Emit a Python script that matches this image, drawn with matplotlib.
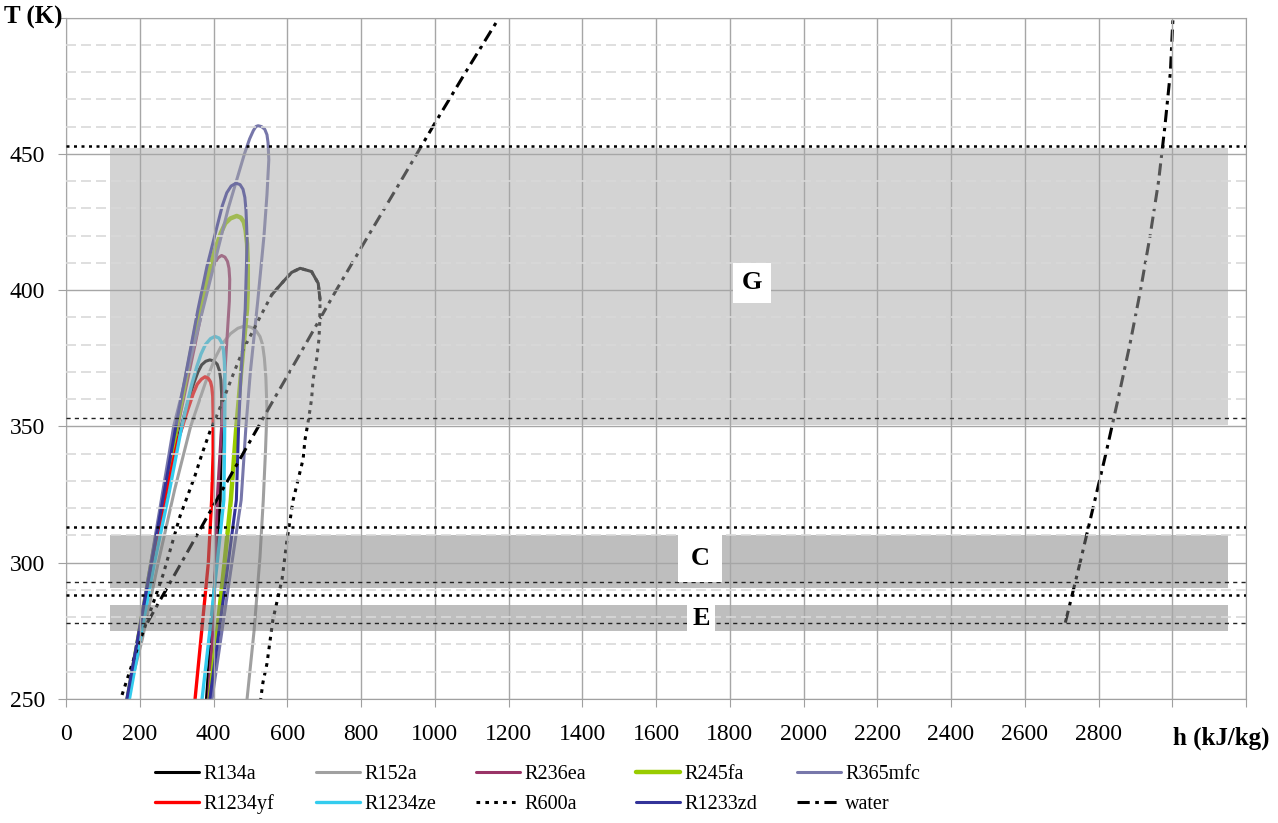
import matplotlib
matplotlib.use('Agg')
import matplotlib.pyplot as plt
from matplotlib.patches import Rectangle

plt.rcParams['font.family'] = ['Liberation Serif', 'DejaVu Serif']

# saturation lines: liquid branch (250 K -> critical) and vapour branch (critical -> 250 K)
r134a_T_liq = [250, 275, 300, 325, 350, 360, 366, 370, 372.6, 373.9, 374.4]
r134a_h_liq = [170, 202, 236, 272, 312, 333, 347, 358, 368, 379, 390]
r134a_T_vap = [374.4, 374.0, 372.8, 370.5, 367, 362, 350, 323, 300, 275, 250]
r134a_h_vap = [390, 401, 410, 416, 420, 422, 422, 418, 407, 394, 381]

r152a_T_liq = [250, 272, 300, 327, 350, 366, 375, 380.5, 384, 386, 386.9]
r152a_h_liq = [166, 207, 250, 295, 338, 378, 404, 425, 446, 466, 486]
r152a_T_vap = [386.9, 386.3, 385, 383, 380, 375, 368, 356, 341, 323, 302, 275, 250]
r152a_h_vap = [486, 503, 516, 526, 533, 538, 542, 545, 541, 535, 526, 510, 491]

r236ea_T_liq = [250, 300, 350, 380, 398, 405, 409.5, 411.8, 412.7]
r236ea_h_liq = [168, 233, 303, 350, 377, 390, 402, 412, 422]
r236ea_T_vap = [412.7, 412.1, 410.5, 408, 404, 396, 370, 350, 323, 290, 270, 250]
r236ea_h_vap = [422, 431, 438, 442, 444, 443, 431, 422, 410, 403, 396, 386]

r245fa_T_liq = [250, 300, 350, 390, 405, 414.8, 421, 424.5, 426.3, 427.2]
r245fa_h_liq = [167, 232, 300, 357, 384, 404, 420, 432, 446, 463]
r245fa_T_vap = [427.2, 426.6, 425, 422, 417, 410, 400, 393, 370, 350, 323, 300, 275, 250]
r245fa_h_vap = [463, 474, 482, 487, 491, 493, 493, 491, 475, 462, 447, 430, 410, 390]

r365mfc_T_liq = [250, 300, 350, 392.8, 430, 450, 455.5, 458.5, 460, 460.3]
r365mfc_h_liq = [166, 230, 292, 371, 440, 484, 498, 508, 515, 521]
r365mfc_T_vap = [460.3, 460, 459, 457, 454, 447.8, 435, 420, 396, 370, 350, 323, 300, 275, 250]
r365mfc_h_vap = [521, 530, 539, 545, 548, 550, 545, 537, 520, 500, 488, 475, 450, 423, 396]

r1234yf_T_liq = [250, 275, 300, 325, 345, 356, 362, 365.5, 367.3, 368.2]
r1234yf_h_liq = [168, 200, 234, 270, 304, 330, 345, 356, 367, 377]
r1234yf_T_vap = [368.2, 367.6, 366.3, 364.3, 361, 354, 340, 323, 300, 275, 250]
r1234yf_h_vap = [377, 386, 392, 395.5, 398, 399, 399, 395, 386, 368, 350]

r1234ze_T_liq = [250, 275, 300, 326, 350, 365, 372, 376.5, 380, 382.2, 383]
r1234ze_h_liq = [172, 205, 240, 280, 314, 340, 355, 366, 378, 392, 404]
r1234ze_T_vap = [383, 382.4, 380.8, 378, 374, 368, 360, 345, 323, 300, 275, 250]
r1234ze_h_vap = [404, 415, 422, 427, 429.5, 431, 431, 430, 428, 410, 390, 369]

r600a_T_liq = [251.5, 266, 295.5, 317, 325, 332, 340, 348, 355, 362, 370, 378, 384, 391.6,
               398.3, 403.1, 406.5, 408]
r600a_h_liq = [152, 187, 263, 309, 331, 350, 369, 390, 412, 433, 456, 480, 503, 532,
               558, 589, 612, 635]
r600a_T_vap = [408, 406.8, 402.5, 396.4, 388, 382, 375, 367, 360, 352, 345, 338, 323, 308,
               294, 279, 263, 256, 250]
r600a_h_vap = [635, 666, 684, 689, 688, 686, 680, 670, 666, 657, 648, 643, 616, 599,
               586, 561, 545, 534, 528]

r1233zd_T_liq = [250, 300, 350, 393, 408.5, 423, 431, 435.7, 438.2, 439.2]
r1233zd_h_liq = [165, 232, 298, 358, 382, 409, 424, 436, 448, 461]
r1233zd_T_vap = [439.2, 438.7, 437, 434, 429.5, 423, 417, 393, 370, 350, 323, 300, 275, 250]
r1233zd_h_vap = [461, 472, 480, 485, 488, 490, 491, 486, 475, 468, 462, 440, 415, 390]

water_T_liq = [278, 280, 300, 320, 340, 360, 380, 400, 420, 440, 460, 480, 500]
water_h_liq = [221, 229, 313, 396, 480, 564, 649, 733, 820, 908, 995, 1084, 1175]
water_T_vap = [278, 300, 320, 340, 360, 380, 400, 420, 440, 460, 480, 500]
water_h_vap = [2710, 2750, 2785, 2820, 2853, 2885, 2914, 2940, 2963, 2980, 2995, 3002]

# temperature bands (G, C, E) and reference levels
band_names = ['G', 'C', 'E']
band_T_low = [350.5, 290.7, 275]
band_T_high = [452, 310.2, 284.5]
band_h_range = [120, 3150]
band_label_h = [1860, 1719, 1722]
band_label_T = [402.7, 301.7, 279.6]
level_thick = [453, 313, 288]
level_thin = [353, 293, 278]

x_ticks = list(range(0, 3201, 200))
x_tick_labels = [str(v) for v in range(0, 2801, 200)] + ['', '']
y_ticks = [250, 300, 350, 400, 450, 500]
y_tick_labels = ['250', '300', '350', '400', '450', '']

fig = plt.figure(figsize=(12.78, 8.23), dpi=100)
ax = fig.add_axes([66 / 1278, 124 / 823, 1180 / 1278, 681.5 / 823])

fluids = [
    ('R134a', r134a_T_liq, r134a_h_liq, r134a_T_vap, r134a_h_vap, '#000000', 2.2, '-'),
    ('R152a', r152a_T_liq, r152a_h_liq, r152a_T_vap, r152a_h_vap, '#a0a0a0', 2.2, '-'),
    ('R236ea', r236ea_T_liq, r236ea_h_liq, r236ea_T_vap, r236ea_h_vap, '#993366', 2.2, '-'),
    ('R245fa', r245fa_T_liq, r245fa_h_liq, r245fa_T_vap, r245fa_h_vap, '#99cc00', 3.2, '-'),
    ('R365mfc', r365mfc_T_liq, r365mfc_h_liq, r365mfc_T_vap, r365mfc_h_vap, '#7777aa', 2.2, '-'),
    ('R1234yf', r1234yf_T_liq, r1234yf_h_liq, r1234yf_T_vap, r1234yf_h_vap, '#ff0000', 2.4, '-'),
    ('R1234ze', r1234ze_T_liq, r1234ze_h_liq, r1234ze_T_vap, r1234ze_h_vap, '#33ccee', 2.4, '-'),
    ('R600a', r600a_T_liq, r600a_h_liq, r600a_T_vap, r600a_h_vap, '#000000', 2.2, (0, (1.2, 1.7))),
    ('R1233zd', r1233zd_T_liq, r1233zd_h_liq, r1233zd_T_vap, r1233zd_h_vap, '#333399', 2.2, '-'),
]

handles = {}
for name, tl, hl, tv, hv, col, lw, ls in fluids:
    ln, = ax.plot(hl + hv, tl + tv, color=col, lw=lw, ls=ls, zorder=2,
                  solid_capstyle='round', solid_joinstyle='round', label=name)
    handles[name] = ln

# the R600a dome top shows as a continuous arc in the original
top_T = [t for t in r600a_T_liq + r600a_T_vap if t >= 396]
top_h = [h for t, h in zip(r600a_T_liq + r600a_T_vap, r600a_h_liq + r600a_h_vap) if t >= 396]
ax.plot(top_h, top_T, color='black', lw=2.2, zorder=2, solid_capstyle='round',
        solid_joinstyle='round')

# water: liquid and vapour branches drawn separately
wl, = ax.plot(water_h_liq, water_T_liq, color='black', lw=2.2,
              ls=(0, (4, 1.8, 1.2, 1.8)), zorder=2, label='water')
ax.plot(water_h_vap, water_T_vap, color='black', lw=2.2,
        ls=(0, (4, 1.8, 1.2, 1.8)), zorder=2)
handles['water'] = wl

band_colors = ['#a9a9a9', '#7f7f7f', '#7f7f7f']
for lo, hi, c in zip(band_T_low, band_T_high, band_colors):
    ax.add_patch(Rectangle((band_h_range[0], lo), band_h_range[1] - band_h_range[0], hi - lo,
                           facecolor=c, alpha=0.5, edgecolor='none', zorder=2.2))

for t in level_thick:
    ax.axhline(t, color='black', lw=1.8, ls=(0, (1.2, 1.8)), zorder=2.7)
for t in level_thin:
    ax.axhline(t, color='#222222', lw=1.0, ls=(0, (3, 3)), zorder=2.7)

label_pads = [6, 9, 4]
for name, h, t, p in zip(band_names, band_label_h, band_label_T, label_pads):
    ax.text(h, t, name, fontsize=19, fontweight='bold', ha='center', va='center', zorder=4,
            bbox=dict(facecolor='white', edgecolor='none', pad=p))

ax.set_xlim(0, 3200)
ax.set_ylim(250, 500)
ax.set_xticks(x_ticks)
ax.set_xticklabels(x_tick_labels)
ax.set_yticks(y_ticks)
ax.set_yticklabels(y_tick_labels)
ax.set_yticks(range(250, 501, 10), minor=True)
ax.set_axisbelow(False)
ax.grid(True, which='major', color='#a6a6a6', lw=1.0)
ax.grid(True, which='minor', axis='y', color='#d9d9d9', lw=1.2, ls=(0, (6, 3)))
ax.tick_params(which='major', direction='out', length=6, color='#a0a0a0',
               labelsize=17, pad=9)
ax.tick_params(axis='x', pad=12)
ax.tick_params(which='minor', length=0)
for s in ax.spines.values():
    s.set_color('#a0a0a0')

ax.text(-0.003, 1.0, 'T (K)', transform=ax.transAxes, fontsize=18, fontweight='bold',
        ha='right', va='center')
ax.text(0.938, -0.057, 'h (kJ/kg)', transform=ax.transAxes, fontsize=18, fontweight='bold',
        ha='left', va='center')

legend_cols = [('R134a', 'R1234yf'), ('R152a', 'R1234ze'), ('R236ea', 'R600a'),
               ('R245fa', 'R1233zd'), ('R365mfc', 'water')]
col_x = [155, 316, 476, 636, 797]
for (a, b), x in zip(legend_cols, col_x):
    fig.legend([handles[a], handles[b]], [a, b], loc='upper left',
               bbox_to_anchor=(x / 1278, 1 - 765 / 823), frameon=False,
               fontsize=14.5, handlelength=2.2, handletextpad=0.2,
               borderpad=0, borderaxespad=0, labelspacing=0.52)

fig.savefig('out.png', dpi=100)
